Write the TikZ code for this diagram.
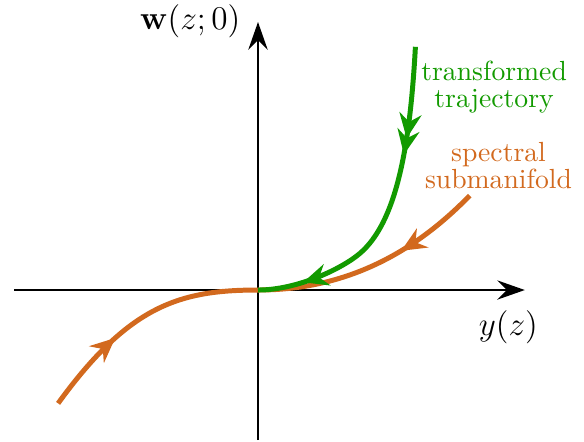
\documentclass[tikz,border=0pt]{standalone}
\usepackage{amsmath,amssymb}
\usepackage{tikz}
\usetikzlibrary{decorations.markings,arrows.meta}
\definecolor{ssmorange}{HTML}{D2691E}
\definecolor{trajgreen}{HTML}{129A00}

\begin{document}
\begin{tikzpicture}[
 flowarrow/.style={postaction={decorate,decoration={markings,
 mark=at position #1 with {\arrow{Stealth[length=9pt,width=8pt,inset=3pt]}}}}},
 flowcurve/.style={line width=1.8pt}]
 \useasboundingbox (-3.278,-1.919) rectangle (4.142,3.685);
 \draw[line width=0.7pt,-{Stealth[length=10pt,width=7pt,inset=3.5pt]}] (-3.1,0)--(3.39,0);
 \draw[line width=0.7pt,-{Stealth[length=10pt,width=7pt,inset=3.5pt]}] (0,-1.906)--(0,3.405);
 \node at (-0.86,3.41){\large$\mathbf{w}(z;0)$};
 \node at (3.18,-0.47){\large$y(z)$};
 % spectral submanifold: both branches flow into the origin
 \draw[flowcurve,ssmorange,flowarrow=0.36] (-2.54,-1.44)
 .. controls (-1.64,-0.2) and (-1.0,0) .. (0,0);
 \draw[flowcurve,ssmorange,flowarrow=0.37] (2.69,1.2)
 .. controls (1.89,0.376) and (1.0,0) .. (0,0);
 % transformed trajectory
 \draw[flowcurve,trajgreen,flowarrow=0.28,flowarrow=0.33,flowarrow=0.86] (2.0,3.09)
 .. controls (1.93,1.8) and (1.754,0.863) .. (1.3,0.47)
 .. controls (1.073,0.273) and (0.5,0) .. (0,0);
 \node[trajgreen,align=center] at (3.0,2.58){transformed\\[-2pt]trajectory};
 \node[ssmorange,align=center] at (3.056,1.58){spectral\\[-2pt]submanifold};
\end{tikzpicture}
\end{document}
